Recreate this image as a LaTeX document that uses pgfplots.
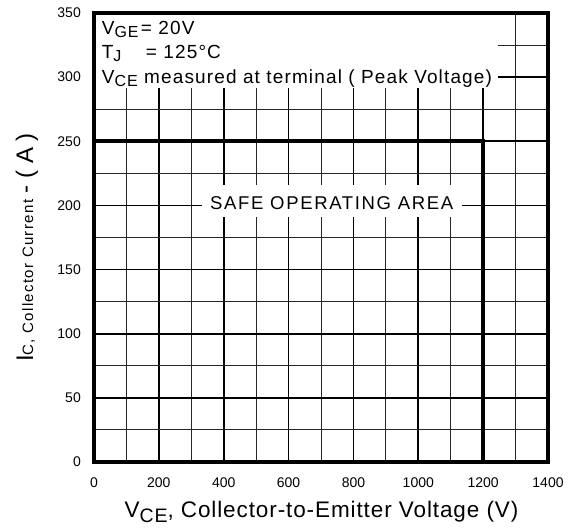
\documentclass[border=0pt]{standalone}
\usepackage{fontspec}
\setmainfont{Liberation Sans}
\newfontfamily\annfont[LetterSpace=6]{Liberation Sans}
\newfontfamily\soafont[LetterSpace=9]{Liberation Sans}
\newfontfamily\labfont[LetterSpace=4]{Liberation Sans}
\newfontfamily\subfont[LetterSpace=9]{Liberation Sans}
\usepackage{pgfplots}
\pgfplotsset{compat=1.18}
\begin{document}
\begin{tikzpicture}[x=1bp,y=1bp]
\path[use as bounding box] (0,0) rectangle (570,529);
\begin{axis}[
  at={(94bp,67bp)}, anchor=south west,
  scale only axis, width=454bp, height=449bp,
  xmin=0, xmax=1400, ymin=0, ymax=350,
  xtick={0,200,...,1400}, ytick={0,50,...,350},
  minor x tick num=1, minor y tick num=1,
  grid=both,
  major grid style={black, line width=1.8bp},
  minor grid style={black!85, line width=0.9bp},
  major tick length=0pt, minor tick length=0pt,
  axis line style={black, line width=3.5bp},
  /pgf/number format/assume math mode=true,
  /pgf/number format/1000 sep={},
  ticklabel style={font=\fontsize{14bp}{16bp}\selectfont, inner sep=0pt},
  xticklabel style={anchor=north, yshift=-16bp},
  yticklabel style={anchor=east, xshift=-13bp},
]
\fill[white] ([xshift=1.8bp]axis cs:0,291.5) rectangle ([yshift=-1.8bp]axis cs:1246,350);
\fill[white] (axis cs:333,191) rectangle (axis cs:1135,216);
\addplot[black, line width=4bp, line join=miter] coordinates {(0,250) (1200,250) (1200,0)};
\node[anchor=base west, inner sep=0pt, font=\annfont\fontsize{19bp}{21bp}\selectfont] at (axis cs:23.7,332.9)
  {\makebox[39bp][l]{V\raisebox{-3bp}{\fontsize{16bp}{17bp}\selectfont GE}}= 20V};
\node[anchor=base west, inner sep=0pt, font=\annfont\fontsize{19bp}{21bp}\selectfont] at (axis cs:23.7,314.9)
  {\makebox[44bp][l]{T\raisebox{-3bp}{\fontsize{16bp}{17bp}\selectfont J}}= 125°C};
\node[anchor=base west, inner sep=0pt, font=\annfont\fontsize{19bp}{21bp}\selectfont] at (axis cs:23.7,294.7)
  {V\raisebox{-3bp}{\fontsize{16bp}{17bp}\selectfont CE} measured at terminal ( Peak Voltage)};
\node[anchor=base, inner sep=0pt, font=\soafont\fontsize{18.5bp}{20bp}\selectfont] at (axis cs:733,197.2)
  {SAFE OPERATING AREA};
\end{axis}
\node[rotate=90, anchor=base, inner sep=0pt, font=\fontsize{24bp}{26bp}\selectfont] at (33,281.5)
  {I{\subfont\fontsize{15bp}{17bp}\selectfont C, Collector Current} - ( A )};
\node[anchor=base, inner sep=0pt, font=\labfont\fontsize{22.5bp}{24bp}\selectfont] at (321.5,11)
  {V\raisebox{-5bp}{\fontsize{19.5bp}{20bp}\selectfont CE}, Collector-to-Emitter Voltage (V)};
\end{tikzpicture}
\end{document}
